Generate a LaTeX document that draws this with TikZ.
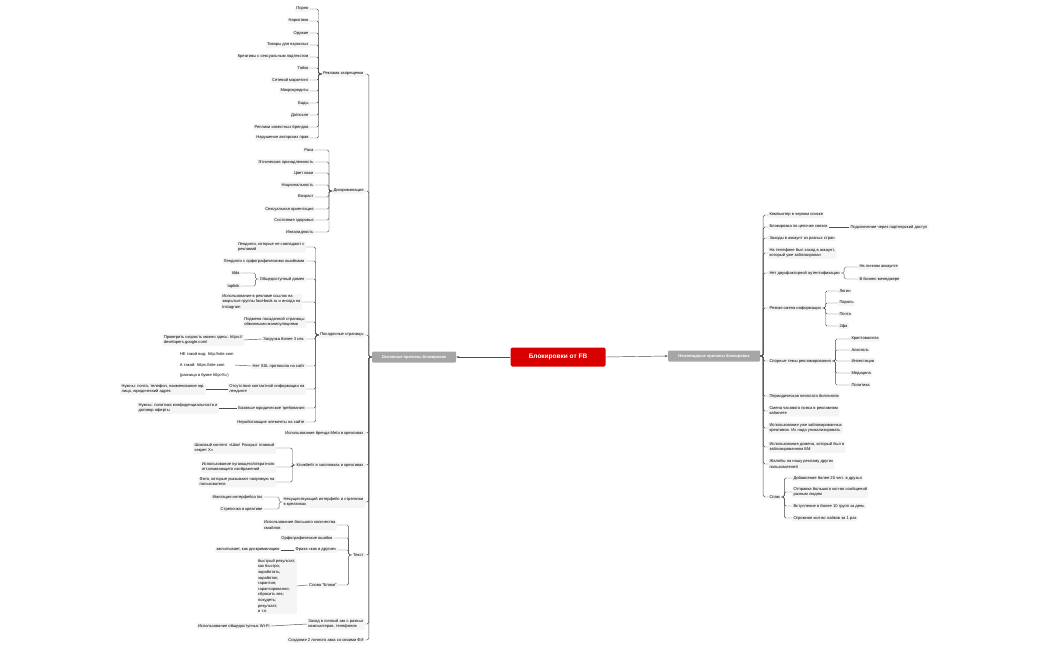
\documentclass[tikz,border=0pt]{standalone}
\usepackage{fontspec}
\setmainfont{Liberation Sans}
\usetikzlibrary{arrows.meta}
\newcommand\LL[2]{\draw[con] (#1.west) -- ++(-3,0) |- (#2.east);}
\newcommand\RR[2]{\draw[con] (#1.east) -- ++(3,0) |- (#2.west);}
\begin{document}
\begin{tikzpicture}[x=1pt,y=-1pt,
 every node/.style={font=\fontsize{4.1}{5.1}\selectfont,inner sep=1.3pt,align=left},
 L/.style={anchor=east,fill=black!4,rounded corners=1},
 R/.style={anchor=west,fill=black!4,rounded corners=1},
 con/.style={draw=black!70,line width=0.45pt,rounded corners=1.5}]
\useasboundingbox (0,0) rectangle (1050,650);
% centre
\node[fill=red!85!black,text=white,font=\fontsize{6.5}{8}\bfseries,minimum width=95,minimum height=19,rounded corners=1.5] (c) at (558,357) {Блокировки от FB};
\node[fill=black!35,text=white,font=\fontsize{4}{5}\bfseries,minimum width=84,minimum height=11,rounded corners=1] (lm) at (414,357) {Основные причины блокировок};
\node[fill=black!35,text=white,font=\fontsize{4}{5}\bfseries,minimum width=92,minimum height=11,rounded corners=1] (rm) at (714,356) {Неочевидные причины блокировок};
\draw[con,-{Stealth[length=3pt]}] (c.west) -- (lm.east);
\draw[con,-{Stealth[length=3pt]}] (c.east) -- (rm.west);
% left level 1
\node[L] (l1) at (365,74) {Реклама запрещенки};
\node[L] (l2) at (365,191) {Дискриминация};
\node[L] (l3) at (365,335) {Посадочные страницы};
\node[L] (l4) at (365,433) {Использование бренда Meta в креативах};
\node[L] (l5) at (365,465) {Кликбейт в заголовках и креативах};
\node[L] (l6) at (365,502) {Несуществующий интерфейс и стрелочки\\в креативах};
\node[L] (l7) at (365,555) {Текст};
\node[L] (l8) at (365,624) {Заход в личный акк с разных\\компьютеров, телефонов};
\node[L] (l9) at (365,640) {Создание 2 личного акка со своими ФИ};
\foreach \n in {l1,l2,l3,l4,l5,l6,l7,l8,l9} {\LL{lm}{\n}}
% Реклама запрещенки
\foreach \t/\y [count=\i] in {Порно/9,Наркотики/21,Оружие/33,Товары для взрослых/45,Креативы с сексуальным подтекстом/57,Табак/68,Сетевой маркетинг/80,Микрокредиты/91,Бады/103,До{/}после/115,Реплики известных брендов/127,Нарушение авторских прав/138}
 {\node[L] (a\i) at (310,\y) {\t}; \LL{l1}{a\i}}
% Дискриминация
\foreach \t/\y [count=\i] in {Раса/150,Этническая принадлежность/162,Цвет кожи/173,Национальность/185,Возраст/197,Сексуальная ориентация/209,Состояние здоровья/220,Инвалидность/232}
 {\node[L] (d\i) at (315,\y) {\t}; \LL{l2}{d\i}}
% Посадочные страницы
\node[L] (p1) at (306,247) {Лендинги, которые не совпадают с\\рекламой};
\node[L] (p2) at (306,261) {Лендинги с орфографическими ошибками};
\node[L] (p3) at (306,279) {Общедоступный домен};
\node[L] (p4) at (302,302) {Использование в рекламе ссылок на\\закрытые группы facebook.ru и иногда на\\Instagram};
\node[L] (p5) at (306,322) {Подмена посадочной страницы\\обманными манипуляциями};
\node[L] (p6) at (306,339) {Загрузка более 3 сек.};
\node[L] (p7) at (306,366) {Нет SSL протокола на сайт};
\node[L] (p8) at (306,389) {Отсутствие контактной информации на\\лендинге};
\node[L] (p9) at (306,408) {Базовые юридические требования};
\node[L] (p10) at (306,422) {Неработающие элементы на сайте};
\foreach \n in {p1,p2,p3,p4,p5,p6,p7,p8,p9,p10} {\LL{l3}{\n}}
\node[L] (t1) at (241,273) {tilda};
\node[L] (t2) at (241,286) {taplink};
\LL{p3}{t1}\LL{p3}{t2}
\node[L] (s1) at (244,340) {Проверить скорость можно здесь: https://\\developers.google.com/};
\draw[con] (p6.west) -- (s1.east);
\node[L,fill=none,align=left] (s2) at (235,365) {НЕ такой вид: http://site.com\\[5pt]А такой: https://site.com\\[5pt](разница в букве http>S=)};
\draw[con] (p7.west) -- (s2.east);
\node[L] (s3) at (206,389) {Нужны: почта, телефон, наименование юр.\\лица, юридический адрес};
\draw[con] (p8.west) -- (s3.east);
\node[L] (s4) at (219,408) {Нужны: политика конфиденциальности и\\договор оферты};
\draw[con] (p9.west) -- (s4.east);
% Кликбейт
\node[L] (k1) at (276,448) {Шоковый контент «Шок! Раскрыт главный\\секрет Х»};
\node[L] (k2) at (276,467) {Использование пугающего/отвратного\\отталкивающего изображений};
\node[L] (k3) at (276,482) {Фото, которые указывают напрямую на\\пользователя};
\LL{l5}{k1}\LL{l5}{k2}\LL{l5}{k3}
% Интерфейс
\node[L] (i1) at (264,497) {Имитация интерфейса Ios};
\node[L] (i2) at (264,509) {Стрелочка в креативе};
\LL{l6}{i1}\LL{l6}{i2}
% Текст
\node[L] (x1) at (337,525) {Использование большого количества\\смайлов};
\node[L] (x2) at (334,538) {Орфографические ошибки};
\node[L] (x3) at (338,550) {Фраза «как и другие»};
\node[L] (x4) at (338,585) {Слова "Блоки"};
\foreach \n in {x1,x2,x3,x4} {\LL{l7}{\n}}
\node[L] (x5) at (281,550) {засчитывает, как дискриминацию};
\draw[con] (x3.west) -- (x5.east);
\node[L,font=\fontsize{4.1}{5.6}\selectfont] (x6) at (297,586) {быстрый результат;\\как быстро;\\заработать;\\заработок;\\гарантия;\\гарантированно;\\сбросить вес;\\похудеть;\\результат;\\и т.п.};
\draw[con] (x4.west) -- (x6.east);
\node[L] (w1) at (271,626) {Использование общедоступных Wi-Fi};
\draw[con] (l8.west) -- (w1.east);
% right side
\node[R] (r1) at (768,215) {Компьютер в черном списке};
\node[R] (r2) at (768,227) {Блокировка по цепочке связок};
\node[R] (r3) at (768,238) {Заходы в аккаунт из разных стран};
\node[R] (r4) at (768,253) {На телефоне был заход в аккаунт,\\который уже заблокирован};
\node[R] (r5) at (768,273) {Нет двухфакторной аутентификации};
\node[R] (r6) at (768,308) {Резкая смена информации};
\node[R] (r7) at (768,361) {Спорные темы рекламирования};
\node[R] (r8) at (768,396) {Периодическая неоплата биллингов};
\node[R] (r9) at (768,411) {Смена часового пояса в рекламном\\кабинете};
\node[R] (r10) at (768,428) {Использование уже заблокированных\\креативов. Их надо уникализировать};
\node[R] (r11) at (768,447) {Использование домена, который был в\\заблокированном БМ};
\node[R] (r12) at (768,464) {Жалобы на нашу рекламу других\\пользователей};
\node[R] (r13) at (768,497) {Спам};
\foreach \n in {r1,r2,r3,r4,r5,r6,r7,r8,r9,r10,r11,r12,r13} {\RR{rm}{\n}}
\node[R] (q1) at (849,227) {Подключение через партнерский доступ};
\draw[con] (r2.east) -- (q1.west);
\node[R] (q2) at (858,267) {На личном аккаунте};
\node[R] (q3) at (858,279) {В бизнес-менеджере};
\RR{r5}{q2}\RR{r5}{q3}
\foreach \t/\y [count=\i] in {Логин/291,Пароль/303,Почта/314,2фа/326}
 {\node[R] (m\i) at (838,\y) {\t}; \RR{r6}{m\i}}
\foreach \t/\y [count=\i] in {Криптовалюта/339,Алкоголь/350,Инвестиции/361,Медицина/373,Политика/385}
 {\node[R] (n\i) at (850,\y) {\t}; \RR{r7}{n\i}}
\node[R] (o1) at (792,478) {Добавление более 20 чел. в друзья};
\node[R] (o2) at (792,492) {Отправка большого кол-во сообщений\\разным людям};
\node[R] (o3) at (792,506) {Вступление в более 10 групп за день};
\node[R] (o4) at (792,518) {Огромное кол-во лайков за 1 раз};
\foreach \n in {o1,o2,o3,o4} {\RR{r13}{\n}}
\end{tikzpicture}
\end{document}
